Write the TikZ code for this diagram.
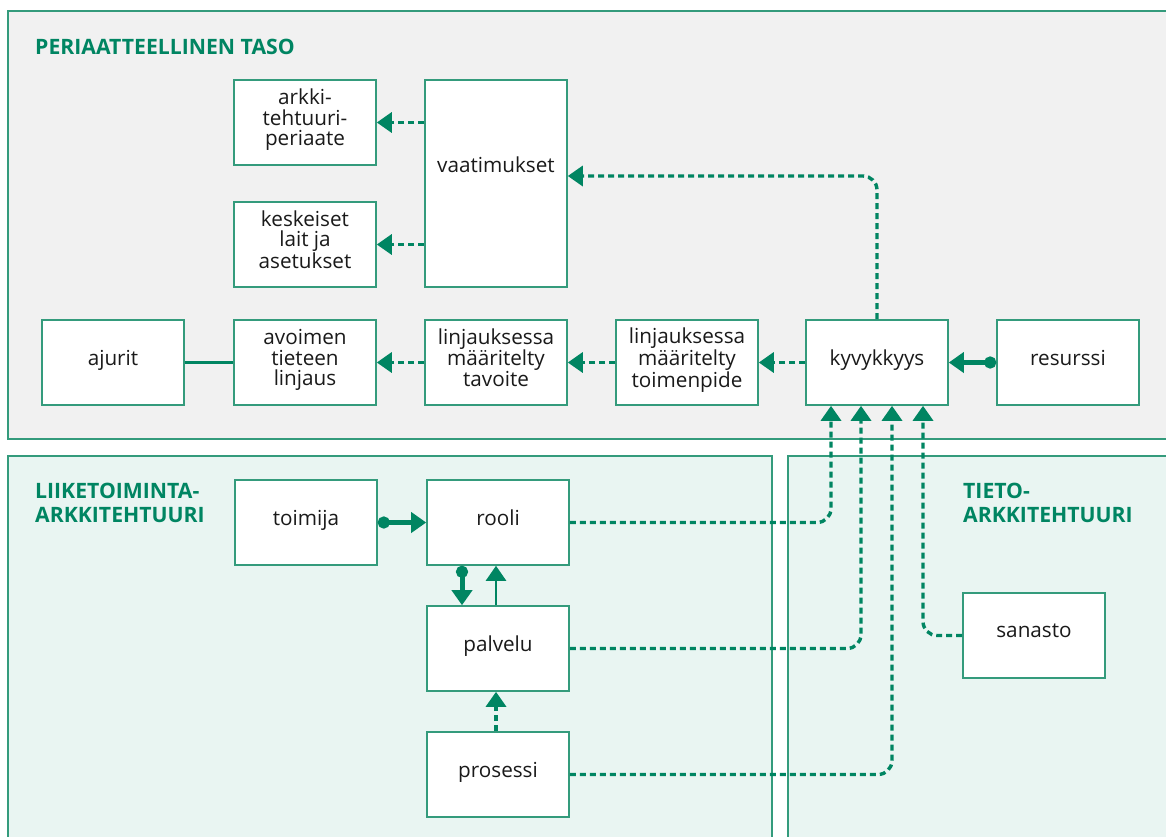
\documentclass[tikz,border=0pt]{standalone}
\usepackage{fontspec}
\setmainfont{Open Sans}
\usetikzlibrary{arrows.meta}
\definecolor{dg}{RGB}{0,133,98}
\definecolor{bd}{RGB}{52,155,124}
\definecolor{topfill}{RGB}{241,241,241}
\definecolor{botfill}{RGB}{233,245,242}
\definecolor{txt}{RGB}{26,26,26}
\begin{document}
\begin{tikzpicture}[x=1pt,y=-1pt,
  panel/.style={draw=bd, line width=1.8pt},
  box/.style={draw=bd, line width=1.6pt, fill=white, minimum width=142pt, minimum height=85pt,
    align=center, inner sep=0pt, text=txt, font=\fontsize{20.7}{20.5}\selectfont,
    execute at begin node={\rule[-10pt]{0pt}{24pt}}},
  hdr/.style={text=dg, font=\fontsize{21.2}{24}\selectfont\bfseries, align=left, inner sep=0pt},
  tri/.tip={Triangle[length=15pt,width=20pt]},
  dotarr/.style={draw=dg, line width=3.4pt, dash pattern=on 6pt off 4pt, -tri, rounded corners=14pt},
  thickarr/.style={draw=dg, line width=5pt, {Circle[length=12pt]}-tri},
  thinarr/.style={draw=dg, line width=2.7pt, -tri},
  plain/.style={draw=dg, line width=3pt}]
\useasboundingbox (0,0) rectangle (1166,836);
\begin{scope}
\clip (0,0) rectangle (1166,836);
\fill[white] (0,0) rectangle (1166,836);
\draw[panel, fill=topfill] (8,11) rectangle (1190,439);
\draw[panel, fill=botfill] (8,456) rectangle (772,860);
\draw[panel, fill=botfill] (788,456) rectangle (1190,860);
\end{scope}

\node[hdr, anchor=base west] (h1) at (35,54) {PERIAATTEELLINEN TASO};
\node[hdr, anchor=north west] (h2) at (35,483) {LIIKETOIMINTA-\\ARKKITEHTUURI};
\node[hdr, anchor=north west] (h3) at (963,483) {TIETO-\\ARKKITEHTUURI};

\node[box] (arkk) at (305,122.5) {arkki-\\tehtuuri-\\periaate};
\node[box] (kesk) at (305,244.5) {keskeiset\\lait ja\\asetukset};
\node[box, minimum height=207pt, execute at begin node={\rule[-37pt]{0pt}{51pt}}] (vaat) at (496,183.5) {vaatimukset};
\node[box] (ajur) at (113,362.5) {ajurit};
\node[box] (avoi) at (305,362.5) {avoimen\\tieteen\\linjaus};
\node[box] (tavo) at (496,362.5) {linjauksessa\\määritelty\\tavoite};
\node[box] (toim) at (687,362.5) {linjauksessa\\määritelty\\toimenpide};
\node[box] (kyvy) at (877,362.5) {kyvykkyys};
\node[box] (resu) at (1068,362.5) {resurssi};
\node[box] (tmij) at (306,522.5) {toimija};
\node[box] (rool) at (498,522.5) {rooli};
\node[box] (palv) at (498,648.5) {palvelu};
\node[box] (pros) at (498,774.5) {prosessi};
\node[box] (sana) at (1034,635.5) {sanasto};

% top level
\draw[dotarr] (vaat.west |- arkk.east) -- (arkk.east);
\draw[dotarr] (vaat.west |- kesk.east) -- (kesk.east);
\draw[dotarr] (kyvy.north) |- ([yshift=7.5pt]vaat.east);
\draw[plain] (ajur.east) -- (avoi.west);
\draw[dotarr] (tavo.west) -- (avoi.east);
\draw[dotarr] (toim.west) -- (tavo.east);
\draw[dotarr] (kyvy.west) -- (toim.east);
\draw[thickarr] (resu.west) -- (kyvy.east);

% business
\draw[thickarr] (tmij.east) -- (rool.west);
\draw[thickarr] ([xshift=-36pt]rool.south) -- ([xshift=-36pt]palv.north);
\draw[thinarr] ([xshift=-2pt]palv.north) -- ([xshift=-2pt]rool.south);
\draw[dotarr] ([xshift=-2pt]pros.north) -- ([xshift=-2pt]palv.south);

% to kyvykkyys
\draw[dotarr] (rool.east) -| ([xshift=-46pt]kyvy.south);
\draw[dotarr] (palv.east) -| ([xshift=-16pt]kyvy.south);
\draw[dotarr] (pros.east) -| ([xshift=15pt]kyvy.south);
\draw[dotarr] (sana.west) -| ([xshift=46pt]kyvy.south);
\end{tikzpicture}
\end{document}
